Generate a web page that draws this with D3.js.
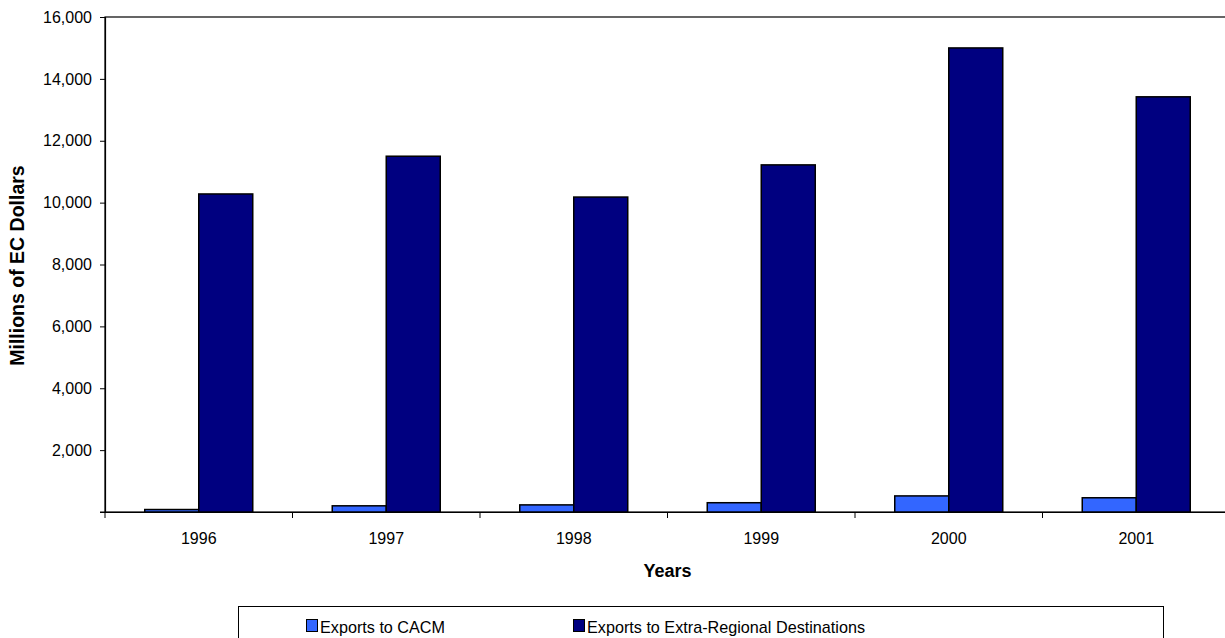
<!DOCTYPE html>
<html><head><meta charset="utf-8">
<script src="https://cdn.jsdelivr.net/npm/d3@7"></script>
<style>body{margin:0;background:#fff;} svg{display:block;font-family:Arial,"Liberation Sans",sans-serif;}</style>
</head><body>
<svg id="c" width="1225" height="638"></svg>
<script>
const years = ["1996","1997","1998","1999","2000","2001"];
const seriesNames = ["Exports to CACM","Exports to Extra-Regional Destinations"];
const cacm = [80, 200, 230, 300, 520, 460];
const extra = [10280, 11500, 10180, 11220, 15000, 13420];
const yTicks = [2000,4000,6000,8000,10000,12000,14000,16000];
const colors = ["#3366FF","#000080"];

const svg = d3.select("#c");
const L = 105, R = 1230, T = 17, B = 512;
const x = d3.scaleBand().domain(years).range([L, R]);
const y = d3.scaleLinear().domain([0,16000]).range([B, T]);
const barW = 54;
const FF = "Arial, 'Liberation Sans', sans-serif";

svg.append("rect").attr("x",L).attr("y",T).attr("width",R-L).attr("height",B-T)
  .attr("fill","none").attr("stroke","#000").attr("stroke-width",1.2);

const data = years.map((yr,i)=>({yr, vals:[cacm[i], extra[i]]}));
const g = svg.append("g");
data.forEach(d=>{
  d.vals.forEach((v,j)=>{
    const cx = x(d.yr) + x.bandwidth()/2;
    g.append("rect")
      .attr("x", cx - barW + j*barW)
      .attr("y", y(v))
      .attr("width", barW)
      .attr("height", B - y(v))
      .attr("fill", colors[j]).attr("stroke","#000").attr("stroke-width",1.5);
  });
});

const ya = svg.append("g").attr("transform",`translate(${L},0)`)
  .call(d3.axisLeft(y).tickValues(yTicks).tickSize(5).tickPadding(8).tickFormat(d3.format(",")));
ya.select(".domain").attr("stroke","#000").attr("stroke-width",1.2);
ya.selectAll("text").attr("font-size",16).attr("fill","#000").style("font-family",FF);
svg.append("line").attr("x1",L-5).attr("x2",L).attr("y1",B).attr("y2",B).attr("stroke","#000");

const xa = svg.append("g").attr("transform",`translate(0,${B})`)
  .call(d3.axisBottom(x).tickSize(0).tickPadding(21));
xa.select(".domain").attr("stroke","#000").attr("stroke-width",1.2);
xa.selectAll("text").attr("font-size",16).attr("fill","#000").style("font-family",FF);
svg.append("g").selectAll("line").data(years).join("line")
  .attr("x1",d=>x(d)).attr("x2",d=>x(d)).attr("y1",B).attr("y2",B+6).attr("stroke","#000");

svg.append("text").attr("x",(L+R)/2).attr("y",577).attr("text-anchor","middle")
  .attr("font-weight","bold").attr("font-size",18).text("Years");
svg.append("text").attr("transform",`translate(24,${(T+B)/2+1}) rotate(-90)`).attr("text-anchor","middle")
  .attr("font-weight","bold").attr("font-size",19.5).text("Millions of EC Dollars");

svg.append("rect").attr("x",238.5).attr("y",606.5).attr("width",925).attr("height",50)
  .attr("fill","#fff").attr("stroke","#000").attr("stroke-width",1);
const lx = [306, 573];
seriesNames.forEach((n,i)=>{
  svg.append("rect").attr("x",lx[i]+0.5).attr("y",619.5).attr("width",11).attr("height",12)
    .attr("fill",colors[i]).attr("stroke","#000").attr("stroke-width",1);
  svg.append("text").attr("x",lx[i]+14).attr("y",633).attr("font-size",16.2).text(n);
});
</script>
</body></html>
